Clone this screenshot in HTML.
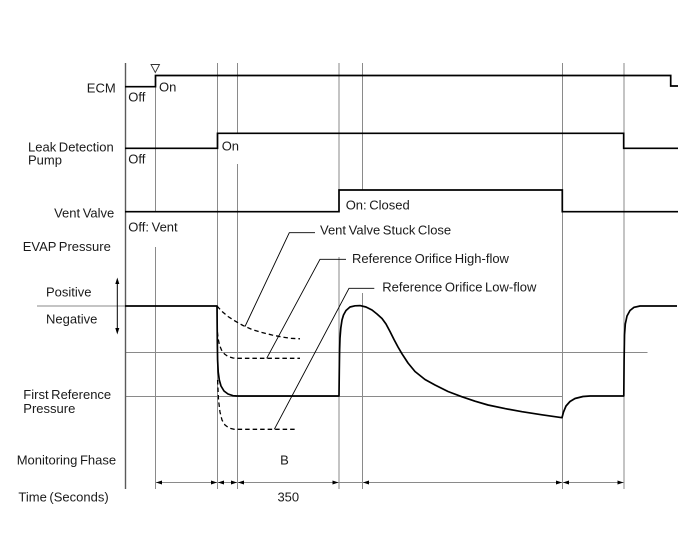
<!DOCTYPE html>
<html>
<head>
<meta charset="utf-8">
<style>
  html,body{margin:0;padding:0;background:#fff;}
  svg{display:block;}
  text{font-family:"Liberation Sans",Arial,sans-serif;font-size:13px;fill:#1a1a1a;word-spacing:-1px;}
</style>
</head>
<body>
<svg width="688" height="560" viewBox="0 0 688 560" xmlns="http://www.w3.org/2000/svg">
  <rect width="688" height="560" fill="#fff"/>

  <!-- gray grid / guide lines -->
  <g stroke="#8a8a8a" stroke-width="1" fill="none">
    <line x1="155.5" y1="86" x2="155.5" y2="212"/>
    <line x1="155.5" y1="247" x2="155.5" y2="489"/>
    <line x1="217.5" y1="63" x2="217.5" y2="489"/>
    <line x1="237.5" y1="63" x2="237.5" y2="133"/>
    <line x1="237.5" y1="164" x2="237.5" y2="489"/>
    <line x1="339" y1="63" x2="339" y2="190"/>
    <line x1="339" y1="257" x2="339" y2="489"/>
    <line x1="362.5" y1="63" x2="362.5" y2="190"/>
    <line x1="362.5" y1="293" x2="362.5" y2="489"/>
    <line x1="562.5" y1="63" x2="562.5" y2="489"/>
    <line x1="624" y1="63" x2="624" y2="489"/>
    <line x1="37" y1="306" x2="125" y2="306"/>
    <line x1="125" y1="352.5" x2="647.5" y2="352.5"/>
    <line x1="125" y1="396.5" x2="562.5" y2="396.5"/>
    <line x1="155.5" y1="482.5" x2="624" y2="482.5"/>
  </g>
  <!-- left axis -->
  <line x1="125.5" y1="63" x2="125.5" y2="489" stroke="#5a5a5a" stroke-width="1.4"/>

  <!-- trigger triangle -->
  <polygon points="151,64.5 159.5,64.5 155.3,72.5" fill="#fff" stroke="#333" stroke-width="0.9"/>

  <!-- signal lines -->
  <g stroke="#000" stroke-width="1.7" fill="none">
    <path d="M125,86.7 H155.5 V75.5 H670.7 V86 H678"/>
    <path d="M125,148.3 H217.5 V133.3 H623.7 V148.3 H678"/>
    <path d="M125,211.7 H339 V190 H562.3 V211.7 H678"/>
  </g>

  <!-- pressure solid curve -->
  <polyline fill="none" stroke="#000" stroke-width="1.7" stroke-linejoin="round"
    points="125,306 217,306 217.3,340 217.6,360 218.2,372 219.3,380 221,386 224,391 228,394 233,395.7 237,396 339,396
    339.3,370 339.6,350 340,338 340.8,328 342,320 343.5,315 346,310.5 350,307 355,305.8 360,305.6 366,307 372,310 377,314 382,318.5 386,324 390,331.5 394,339.5 398,347 402,353.8 408,363 415,371.5 425,379.5 435,385 448,391.5 461.7,396.7 475,401.2 488,405 505,408.6 522,411.7 542,414.8 562,417.7
    563.5,412 566,406 570,401.5 575,398.5 583,396.5 590,396 623.8,396
    624.1,360 624.5,335 625.3,324 627,316 630,310.5 634,307.3 640,306 677,306"/>

  <!-- dashed curves -->
  <g fill="none" stroke="#000" stroke-width="1.3" stroke-dasharray="4.5,3" stroke-linejoin="round">
    <polyline points="217,306 222,311.5 228,316.5 235,321 243,325.5 252,329.5 262,332.5 272,335 282,337 291,338.3 300,338.8"/>
    <polyline points="217.4,332 218.2,339 219.5,345 221.5,350 224.5,354 228,356.5 233,358 237,358.3 300,358.3"/>
    <polyline points="217.6,380 218.5,400 220,412 222,420 225,425 229,428 234,429.3 297,429.3"/>
  </g>

  <!-- leader lines -->
  <g fill="none" stroke="#000" stroke-width="0.9">
    <polyline points="245,326.5 289.3,232.7 315,232.7"/>
    <polyline points="266.7,358.3 320,259.3 346,259.3"/>
    <polyline points="274.3,429.3 349,288.3 374.3,288.3"/>
  </g>

  <!-- positive/negative double arrow -->
  <line x1="117.3" y1="281" x2="117.3" y2="331" stroke="#000" stroke-width="1"/>
  <polygon points="117.3,277.5 115.3,284 119.3,284" fill="#000"/>
  <polygon points="117.3,334.5 115.3,328 119.3,328" fill="#000"/>

  <!-- time arrowheads -->
  <g fill="#000">
    <polygon points="156,482.5 162,480.5 162,484.5"/>
    <polygon points="217,482.5 211,480.5 211,484.5"/>
    <polygon points="218,482.5 224,480.5 224,484.5"/>
    <polygon points="237,482.5 231,480.5 231,484.5"/>
    <polygon points="238,482.5 244,480.5 244,484.5"/>
    <polygon points="338.5,482.5 332.5,480.5 332.5,484.5"/>
    <polygon points="363,482.5 369,480.5 369,484.5"/>
    <polygon points="562,482.5 556,480.5 556,484.5"/>
    <polygon points="563,482.5 569,480.5 569,484.5"/>
    <polygon points="623.5,482.5 617.5,480.5 617.5,484.5"/>
  </g>

  <!-- labels -->
  <text x="115.7" y="92.5" text-anchor="end">ECM</text>
  <text x="128.3" y="101.6">Off</text>
  <text x="159" y="91.6">On</text>

  <text x="28" y="151.6">Leak Detection</text>
  <text x="28" y="164.6">Pump</text>
  <text x="128.3" y="163.6">Off</text>
  <text x="221.7" y="150.3">On</text>

  <text x="114.3" y="217.5" text-anchor="end">Vent Valve</text>
  <text x="128.3" y="231.3">Off: Vent</text>
  <text x="345.7" y="209.6">On: Closed</text>

  <text x="22.7" y="251">EVAP Pressure</text>
  <text x="320" y="234.6">Vent Valve Stuck Close</text>
  <text x="352" y="263">Reference Orifice High-flow</text>
  <text x="382.3" y="291.3">Reference Orifice Low-flow</text>

  <text x="46" y="296.5">Positive</text>
  <text x="46" y="323.5">Negative</text>

  <text x="23.3" y="399">First Reference</text>
  <text x="23.3" y="413">Pressure</text>

  <text x="16.7" y="464.5">Monitoring Fhase</text>
  <text x="284.5" y="464.5" text-anchor="middle">B</text>
  <text x="18.4" y="501.5">Time (Seconds)</text>
  <text x="288.3" y="501.5" text-anchor="middle">350</text>
</svg>
</body>
</html>
